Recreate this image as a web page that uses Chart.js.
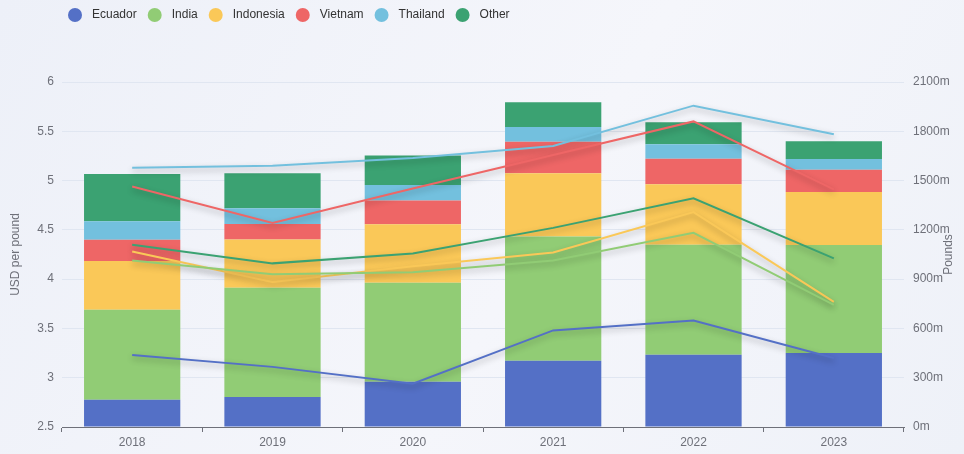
<!DOCTYPE html>
<html>
<head>
<meta charset="utf-8">
<script src="https://cdn.jsdelivr.net/npm/chart.js@4"></script>
<style>
  html, body { margin: 0; padding: 0; }
  body {
    width: 964px; height: 454px; overflow: hidden;
    background: linear-gradient(120deg, #edf0f8 0%, #f5f6fb 55%, #eef1f8 100%);
  }
  #wrap { position: relative; width: 964px; height: 454px; }
</style>
</head>
<body>
<div id="wrap"><canvas id="myChart"></canvas></div>
<script>
const years = ['2018', '2019', '2020', '2021', '2022', '2023'];
const countries = ['Ecuador', 'India', 'Indonesia', 'Vietnam', 'Thailand', 'Other'];
const colors = ['#5470c6', '#91cc75', '#fac858', '#ee6666', '#73c0de', '#3ba272'];

// volume, million pounds (right axis)
const ecuadorVol = [166, 183, 276, 404, 440, 450];
const indiaVol = [548, 665, 602, 755, 670, 658];
const indonesiaVol = [296, 294, 356, 385, 367, 322];
const vietnamVol = [130, 94, 144, 193, 156, 136];
const thailandVol = [112, 95, 95, 89, 88, 65];
const otherVol = [288, 213, 179, 150, 134, 108];

// price, USD per pound (left axis)
const ecuadorPrice = [3.23, 3.11, 2.94, 3.48, 3.58, 3.20];
const indiaPrice = [4.19, 4.05, 4.07, 4.19, 4.47, 3.74];
const indonesiaPrice = [4.28, 3.97, 4.13, 4.27, 4.68, 3.77];
const vietnamPrice = [4.94, 4.57, 4.92, 5.26, 5.60, 4.91];
const thailandPrice = [5.13, 5.15, 5.23, 5.35, 5.76, 5.47];
const otherPrice = [4.35, 4.16, 4.26, 4.52, 4.82, 4.21];

const volumes = [ecuadorVol, indiaVol, indonesiaVol, vietnamVol, thailandVol, otherVol];
const prices = [ecuadorPrice, indiaPrice, indonesiaPrice, vietnamPrice, thailandPrice, otherPrice];

const tickColor = '#6e7079';
const font = { family: '"Liberation Sans", Arial, sans-serif', size: 12 };

const datasets = [];
countries.forEach((name, i) => {
    datasets.push({
        type: 'bar',
        label: name,
        data: volumes[i],
        backgroundColor: colors[i],
        yAxisID: 'y1',
        stack: 'pounds',
        order: 2,
        categoryPercentage: 1,
        barPercentage: 0.686
    });
});
countries.forEach((name, i) => {
    datasets.push({
        type: 'line',
        label: name + ' price',
        data: prices[i],
        borderColor: colors[i],
        borderWidth: 2,
        pointRadius: 0,
        tension: 0,
        fill: false,
        yAxisID: 'y',
        order: 1
    });
});

// soft shadow under the price lines
const lineShadow = {
    id: 'lineShadow',
    beforeDatasetDraw(chart, args) {
        if (args.meta.type !== 'line') return;
        const ctx = chart.ctx;
        ctx.save();
        ctx.shadowColor = 'rgba(0,0,0,0.3)';
        ctx.shadowBlur = 6;
        ctx.shadowOffsetY = 3;
    },
    afterDatasetDraw(chart, args) {
        if (args.meta.type !== 'line') return;
        chart.ctx.restore();
    }
};

// legend and axis titles
const extras = {
    id: 'extras',
    afterDraw(chart) {
        const ctx = chart.ctx;
        ctx.save();
        ctx.font = '12px ' + font.family;
        ctx.textBaseline = 'middle';
        let x = 68;
        countries.forEach((name, i) => {
            ctx.fillStyle = colors[i];
            ctx.beginPath();
            ctx.arc(x + 7, 15, 7, 0, Math.PI * 2);
            ctx.fill();
            ctx.fillStyle = '#333';
            ctx.textAlign = 'left';
            ctx.fillText(name, x + 24, 15);
            x += 24 + ctx.measureText(name).width + 11;
        });

        const area = chart.chartArea;
        const midY = (area.top + area.bottom) / 2;
        ctx.fillStyle = tickColor;
        ctx.textAlign = 'center';
        [[16, 'USD per pound'], [949, 'Pounds']].forEach(([tx, text]) => {
            ctx.save();
            ctx.translate(tx, midY);
            ctx.rotate(-Math.PI / 2);
            ctx.fillText(text, 0, 0);
            ctx.restore();
        });
        ctx.restore();
    }
};

const ctx = document.getElementById('myChart').getContext('2d');
const myChart = new Chart(ctx, {
    data: { labels: years, datasets: datasets },
    options: {
        responsive: true,
        maintainAspectRatio: false,
        animation: false,
        layout: { padding: { top: 82, left: 0, right: 0, bottom: 0 } },
        plugins: {
            legend: { display: false },
            tooltip: { enabled: false }
        },
        scales: {
            x: {
                stacked: true,
                offset: true,
                afterFit(scale) { scale.height = 27; },
                grid: {
                    drawOnChartArea: false,
                    drawTicks: true,
                    tickLength: 5,
                    color: tickColor,
                    offset: true
                },
                border: { display: true, color: tickColor },
                ticks: { color: tickColor, font: font, padding: 3 }
            },
            y: {
                position: 'left',
                min: 2.5,
                max: 6,
                afterFit(scale) { scale.width = 62; },
                ticks: {
                    stepSize: 0.5,
                    color: tickColor,
                    font: font,
                    padding: 8,
                    callback: v => String(Number(v))
                },
                grid: { color: '#e0e6f1', drawTicks: false },
                border: { display: false }
            },
            y1: {
                position: 'right',
                stacked: true,
                min: 0,
                max: 2100,
                afterFit(scale) { scale.width = 60; },
                ticks: {
                    stepSize: 300,
                    color: tickColor,
                    font: font,
                    padding: 9,
                    callback: v => v + 'm'
                },
                grid: { drawOnChartArea: false, drawTicks: false },
                border: { display: false }
            }
        }
    },
    plugins: [lineShadow, extras]
});
</script>
</body>
</html>
